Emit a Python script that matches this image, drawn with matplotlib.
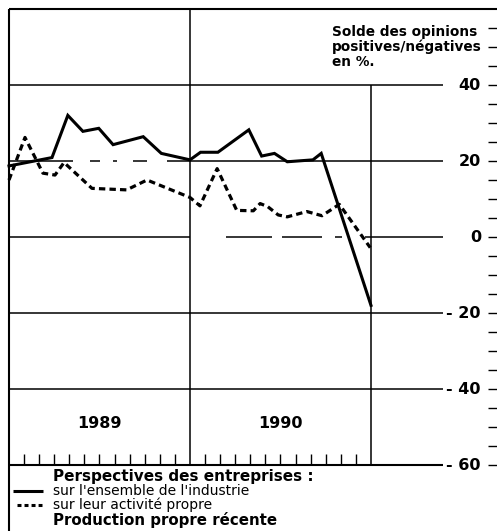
import matplotlib
matplotlib.use('Agg')
import matplotlib.pyplot as plt
import numpy as np

W, H, DPI = 497, 531, 100

# ---------------- data ----------------
solid_months = [0, 2.85, 3.9, 4.9, 5.95, 6.9, 8.9, 10.1, 12.0, 12.7, 13.85,
                15.9, 16.75, 17.6, 18.45, 20.15, 20.7, 24.0]
solid_values = [18.7, 20.9, 32.0, 27.8, 28.6, 24.3, 26.4, 22.0, 20.3, 22.3, 22.3,
                28.2, 21.3, 22.0, 19.8, 20.3, 22.0, -18.0]
dashed_months = [0, 1.06, 2.25, 3.05, 3.65, 5.5, 7.8, 9.15, 12.0, 12.66, 13.8,
                 15.1, 16.2, 16.65, 17.15, 17.85, 18.45, 19.75, 20.75, 21.9, 23.95]
dashed_values = [15.0, 26.2, 16.8, 16.3, 19.6, 12.8, 12.4, 15.0, 10.4, 8.2, 18.0,
                 7.0, 6.9, 8.8, 8.0, 5.8, 5.3, 6.7, 5.6, 8.6, -2.8]
years = ['1989', '1990']
year_centers = [6, 18]
ytick_values = [40, 20, 0, -20, -40, -60]
ytick_labels = ['40', '20', '0', '- 20', '- 40', '- 60']
axis_title = 'Solde des opinions\npositives/négatives\nen %.'
legend_head = 'Perspectives des entreprises :'
legend_solid = "sur l'ensemble de l'industrie"
legend_dashed = 'sur leur activité propre'
legend_tail = 'Production propre récente'

plt.rcParams['font.family'] = ['DejaVu Sans']

fig = plt.figure(figsize=(W / DPI, H / DPI), dpi=DPI)
fig.patch.set_facecolor('white')

# geometry (pixels)
X0, XR, Y0, YB = 9, 443, 9, 465
PXM = 15.083          # pixels per month
PXV = (YB - Y0) / 120  # pixels per unit
ax = fig.add_axes([X0 / W, (H - YB) / H, (XR - X0) / W, (YB - Y0) / H])
ax.set_xlim(0, (XR - X0) / PXM)
ax.set_ylim(-60, 60)
ax.axis('off')

def mx(px):
    return (px - X0) / PXM

def vy(py):
    return 60 - (py - Y0) / PXV

xmax = ax.get_xlim()[1]
k = dict(color='black', clip_on=False, solid_capstyle='butt')

# horizontal grid lines
for v in (40, -20, -40):
    ax.plot([0, xmax], [v, v], lw=1.1, **k)
ax.plot([0, xmax], [-60, -60], lw=1.5, **k)
# 20 line (partly broken)
for a, b in [(9, 73), (90, 100), (113, 117), (133, 147), (167, XR)]:
    ax.plot([mx(a), mx(b)], [20, 20], lw=1.1, **k)
# 0 line (dashed in 1990)
for a, b in [(9, 190), (226, 272), (282, 322), (335, 342), (365, XR)]:
    ax.plot([mx(a), mx(b)], [0, 0], lw=1.1, **k)

# frame: top and left
ax.plot([0, mx(W)], [60, 60], lw=1.5, **k)
ax.plot([0, 0], [60, vy(H)], lw=1.5, **k)
# vertical year separators
ax.plot([12, 12], [-60, 60], lw=1.1, **k)
ax.plot([24, 24], [-60, 40], lw=1.1, **k)

# bottom month ticks
for m in range(1, 24):
    if m == 12:
        continue
    ax.plot([m, m], [-60, -60 + 11 / PXV], lw=1.0, **k)

# right ticks
for v in range(-60, 60, 5):
    ax.plot([mx(488), mx(W)], [v, v], lw=1.0, **k)

# y labels
for v, lab in zip(ytick_values, ytick_labels):
    ax.text(mx(481), v, lab, ha='right', va='center', fontsize=11.5,
            fontweight='bold', clip_on=False)

# axis title
ax.text(mx(332), vy(25), axis_title, ha='left', va='top', fontsize=9.8,
        fontweight='bold', linespacing=1.07, clip_on=False)

# year labels
for yc, yl in zip(year_centers, years):
    ax.text(yc, vy(423), yl, ha='center', va='center', fontsize=11.5,
            fontweight='bold')

# data lines
ax.plot(solid_months, solid_values, color='black', lw=2.2,
        solid_joinstyle='miter', clip_on=False)
ax.plot(dashed_months, dashed_values, color='black', lw=2.3,
        linestyle=(0, (2.0, 1.3)), dash_capstyle='butt', clip_on=False)

# legend
def fy(py):
    return 1 - py / H

fig.text(53 / W, fy(477), legend_head, ha='left', va='center', fontsize=11,
         fontweight='bold')
fig.text(53 / W, fy(491), legend_solid, ha='left', va='center', fontsize=10)
fig.text(53 / W, fy(505), legend_dashed, ha='left', va='center', fontsize=10)
fig.text(53 / W, fy(520), legend_tail, ha='left', va='center', fontsize=10.8,
         fontweight='bold')
fig.add_artist(plt.Line2D([13 / W, 43 / W], [fy(491), fy(491)], color='black',
                          lw=2.2, solid_capstyle='butt'))
fig.add_artist(plt.Line2D([17 / W, 42 / W], [fy(505), fy(505)], color='black',
                          lw=2.2, linestyle=(0, (1.3, 1.0)), dash_capstyle='butt'))

fig.savefig('out.png', dpi=DPI)
